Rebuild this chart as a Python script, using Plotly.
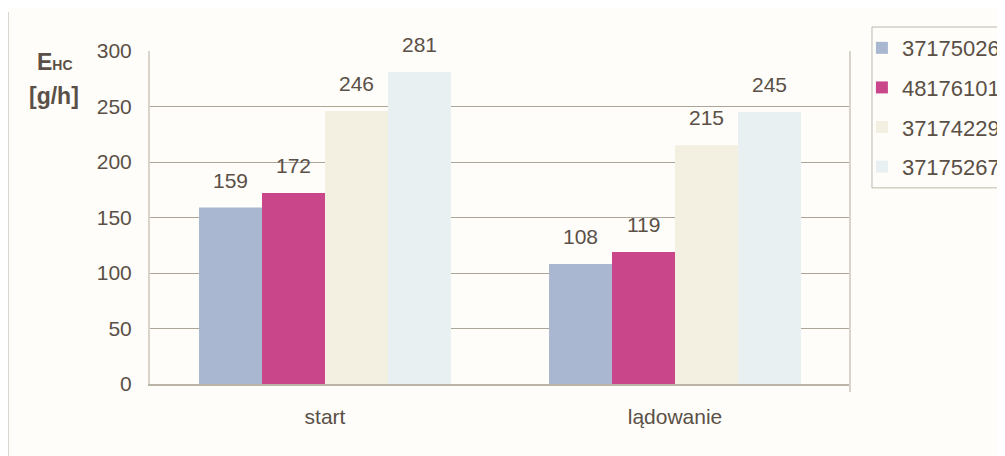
import plotly.graph_objects as go

categories = ["start", "lądowanie"]
series_names = ["37175026", "48176101", "37174229", "37175267"]
values = [
    [159, 108],
    [172, 119],
    [246, 215],
    [281, 245],
]
colors = ["#aab7d1", "#c9468a", "#f3f0e2", "#e9f0f2"]
y_ticks = [0, 50, 100, 150, 200, 250, 300]

TXT = "#5a5047"
BG = "#fefdf9"
FONT = "Liberation Sans, Arial, sans-serif"
BARGAP = 0.28

fig = go.Figure()
for i, (name, vals, col) in enumerate(zip(series_names, values, colors)):
    fig.add_trace(go.Bar(
        x=categories, y=vals, name=name, marker_color=col,
        marker_line_width=0, legendgroup=f"g{i}",
    ))

# value labels above bars
n = len(series_names)
w = (1 - BARGAP) / n
for i, vals in enumerate(values):
    for j, v in enumerate(vals):
        xpos = j - (1 - BARGAP) / 2 + w * (i + 0.5)
        fig.add_annotation(x=xpos, y=v, xref="x", yref="y", text=str(v),
                           showarrow=False, yanchor="bottom", yshift=14,
                           font=dict(size=21, color=TXT, family=FONT))

# y-axis title
fig.add_annotation(xref="paper", yref="paper", x=-0.136, y=0.967, xanchor="center",
                   yanchor="middle", showarrow=False,
                   text="<b>E<span style='font-size:14px'>HC</span></b>",
                   font=dict(size=23, color=TXT, family=FONT))
fig.add_annotation(xref="paper", yref="paper", x=-0.137, y=0.865, xanchor="center",
                   yanchor="middle", showarrow=False,
                   text="<b>[g/h]</b>",
                   font=dict(size=23, color=TXT, family=FONT))

# right edge line of plot area extending below axis
fig.add_shape(type="line", xref="paper", yref="paper", x0=1, x1=1, y0=-0.024, y1=1,
              line=dict(color="#d9d3c9", width=2))
# left outer border line
fig.add_shape(type="line", xref="paper", yref="paper", x0=-0.203, x1=-0.203,
              y0=-0.25, y1=1.117, line=dict(color="#d9d3c9", width=2))
# legend frame
fig.add_shape(type="rect", xref="paper", yref="paper", x0=1.0314, x1=1.4,
              y0=0.589, y1=1.072, line=dict(color="#bdb8ac", width=1),
              fillcolor=BG, layer="below")

fig.update_layout(
    width=997, height=448,
    margin=dict(l=142, r=155, t=43, b=72, autoexpand=False),
    paper_bgcolor=BG, plot_bgcolor=BG,
    barmode="group", bargap=BARGAP, bargroupgap=0,
    font=dict(family=FONT, color=TXT, size=21),
    showlegend=True,
    legend=dict(x=1.017, y=1.072, xanchor="left", yanchor="top",
                bgcolor="rgba(0,0,0,0)", borderwidth=0,
                font=dict(size=22, color=TXT, family=FONT),
                tracegroupgap=8, itemwidth=30),
    xaxis=dict(showline=True, linecolor="#bab3a7", linewidth=2, ticks="",
               tickfont=dict(size=21, color=TXT), showgrid=False,
               ticklabelstandoff=13, automargin=False),
    yaxis=dict(range=[0, 300], tickvals=y_ticks, showgrid=True,
               gridcolor="#aca598", gridwidth=1, showline=True,
               linecolor="#d9d3c9", linewidth=2, zeroline=False,
               ticks="outside", ticklen=12, tickcolor=BG, automargin=False,
               tickfont=dict(size=21, color=TXT)),
)

fig.write_html("out.html")
